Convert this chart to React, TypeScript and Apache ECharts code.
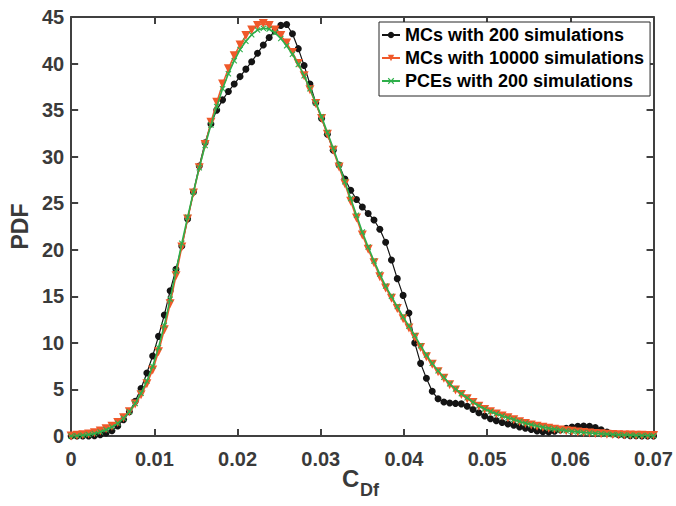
import React, { useEffect, useRef } from 'react';
import * as echarts from 'echarts';

// sample spacing of the estimated PDFs along C_Df
const X_STEP = 0.0007;

// MCs with 200 simulations (black dots)
const MC200 = [
  0, 0, 0, 0, 0.04, 0.15, 0.32, 0.57, 1.08, 1.76,
  2.6, 3.72, 5.1, 6.76, 8.6, 10.7, 13.0, 15.6, 17.9, 20.4,
  23.3, 26.2, 29.0, 31.5, 33.5, 35.0, 36.1, 37.0, 37.8, 38.6,
  39.4, 40.2, 41.1, 42.0, 42.8, 43.5, 44.1, 44.2, 43.2, 41.6,
  39.8, 37.8, 35.8, 34.1, 32.4, 30.7, 29.1, 27.6, 26.4, 25.4,
  24.6, 23.9, 23.2, 22.2, 20.8, 18.9, 16.9, 15.1, 13.2, 10.0,
  7.8, 6.2, 4.8, 4.0, 3.65, 3.55, 3.5, 3.45, 3.2, 2.85,
  2.5, 2.15, 1.85, 1.65, 1.45, 1.3, 1.15, 0.97, 0.83, 0.69,
  0.55, 0.45, 0.42, 0.52, 0.66, 0.82, 0.97, 1.04, 1.08, 1.04,
  0.9, 0.66, 0.43, 0.22, 0.14, 0.08, 0.04, 0.02, 0.01, 0,
  0,
];

// MCs with 10000 simulations (red triangles)
const MC10000 = [
  0, 0.07, 0.14, 0.22, 0.36, 0.55, 0.78, 1.06, 1.46, 1.97,
  2.6, 3.44, 4.44, 5.6, 7.08, 9.05, 11.4, 14.2, 17.2, 20.3,
  23.3, 26.1, 28.8, 31.3, 33.7, 35.85, 37.8, 39.45, 40.85, 42.0,
  43.0, 43.6, 44.1, 44.3, 44.1, 43.6, 43.0, 42.2, 41.2, 40.0,
  38.7, 37.2, 35.7, 34.1, 32.4, 30.7, 28.9, 27.1, 25.2, 23.4,
  21.6, 20.05, 18.6, 17.1, 15.9, 14.8, 13.7, 12.6, 11.6, 10.6,
  9.5, 8.5, 7.7, 6.9, 6.2, 5.5, 4.95, 4.45, 4.0, 3.6,
  3.2, 2.85, 2.6, 2.37, 2.15, 1.95, 1.74, 1.53, 1.35, 1.19,
  1.05, 0.93, 0.82, 0.73, 0.64, 0.57, 0.5, 0.44, 0.38, 0.33,
  0.28, 0.24, 0.2, 0.17, 0.14, 0.11, 0.1, 0.08, 0.07, 0.06,
  0.05,
];

// PCEs with 200 simulations (green crosses)
const PCE200 = [
  0, 0.03, 0.08, 0.15, 0.27, 0.44, 0.66, 0.96, 1.36, 1.9,
  2.6, 3.5, 4.6, 5.9, 7.5, 9.5, 11.9, 14.7, 17.7, 20.7,
  23.5, 26.2, 28.8, 31.2, 33.4, 35.4, 37.3, 38.9, 40.3, 41.5,
  42.4, 43.1, 43.6, 43.8, 43.7, 43.3, 42.7, 41.9, 41.0, 39.9,
  38.7, 37.3, 35.8, 34.3, 32.6, 30.9, 29.1, 27.3, 25.5, 23.7,
  21.9, 20.3, 18.8, 17.4, 16.1, 15.0, 13.9, 12.8, 11.8, 10.8,
  9.7, 8.7, 7.8, 7.0, 6.3, 5.6, 5.05, 4.55, 4.1, 3.65,
  3.25, 2.9, 2.62, 2.38, 2.16, 1.96, 1.76, 1.56, 1.38, 1.22,
  1.08, 0.95, 0.84, 0.74, 0.65, 0.57, 0.5, 0.44, 0.38, 0.33,
  0.28, 0.24, 0.2, 0.17, 0.14, 0.11, 0.09, 0.07, 0.06, 0.05,
  0.04,
];

const SERIES_NAMES = [
  'MCs with 200 simulations',
  'MCs with 10000 simulations',
  'PCEs with 200 simulations',
];

const X_MIN = 0;
const X_MAX = 0.07;
const X_INTERVAL = 0.01;
const Y_MIN = 0;
const Y_MAX = 45;
const Y_INTERVAL = 5;

const FONT = '"Liberation Sans", Arial, Helvetica, sans-serif';
const AXIS_COLOR = '#404040';
const TEXT_COLOR = '#3a3a3a';

const CROSS =
  'path://M0,1.3L1.3,0L5,3.7L8.7,0L10,1.3L6.3,5L10,8.7L8.7,10L5,6.3L1.3,10L0,8.7L3.7,5Z';

function toPairs(ys: number[]) {
  return ys.map((y, i) => [Number((i * X_STEP).toFixed(5)), y]);
}

export default function App() {
  const ref = useRef<HTMLDivElement>(null);

  useEffect(() => {
    if (!ref.current) return;
    const chart = echarts.init(ref.current, null, { renderer: 'svg' });

    const lineStyleAxis = { color: AXIS_COLOR, width: 2 };
    const baseX = {
      type: 'value',
      min: X_MIN,
      max: X_MAX,
      interval: X_INTERVAL,
      axisLine: { show: true, onZero: false, lineStyle: lineStyleAxis },
      axisTick: { show: true, inside: true, length: 7, lineStyle: lineStyleAxis },
      splitLine: { show: false },
    };
    const baseY = {
      type: 'value',
      min: Y_MIN,
      max: Y_MAX,
      interval: Y_INTERVAL,
      axisLine: { show: true, onZero: false, lineStyle: lineStyleAxis },
      axisTick: { show: true, inside: true, length: 7, lineStyle: lineStyleAxis },
      splitLine: { show: false },
    };

    chart.setOption({
      animation: false,
      backgroundColor: '#ffffff',
      grid: { left: 63, right: 20, top: 17, bottom: 70 },
      xAxis: [
        {
          ...baseX,
          position: 'bottom',
          axisLabel: {
            margin: 13,
            fontSize: 20,
            fontWeight: 'bold',
            fontFamily: FONT,
            color: TEXT_COLOR,
            formatter: (v: number) => (v === 0 ? '0' : v.toFixed(2)),
          },
        },
        { ...baseX, position: 'top', axisLabel: { show: false } },
      ],
      yAxis: [
        {
          ...baseY,
          position: 'left',
          name: 'PDF',
          nameLocation: 'middle',
          nameGap: 33,
          nameTextStyle: {
            fontSize: 23,
            fontWeight: 'bold',
            fontFamily: FONT,
            color: TEXT_COLOR,
          },
          axisLabel: {
            margin: 7,
            fontSize: 20,
            fontWeight: 'bold',
            fontFamily: FONT,
            color: TEXT_COLOR,
          },
        },
        { ...baseY, position: 'right', axisLabel: { show: false } },
      ],
      legend: {
        orient: 'vertical',
        left: 379,
        top: 22,
        itemGap: 3,
        itemWidth: 18,
        itemHeight: 8,
        padding: [3, 6, 5, 2],
        backgroundColor: '#ffffff',
        borderColor: '#262626',
        borderWidth: 1,
        textStyle: {
          fontSize: 18,
          fontWeight: 'bold',
          fontFamily: FONT,
          color: '#000000',
          lineHeight: 20,
        },
        data: SERIES_NAMES,
      },
      series: [
        {
          name: SERIES_NAMES[0],
          type: 'line',
          data: toPairs(MC200),
          symbol: 'circle',
          symbolSize: 7,
          showAllSymbol: true,
          itemStyle: { color: '#141414' },
          lineStyle: { color: '#141414', width: 1.2 },
          z: 2,
        },
        {
          name: SERIES_NAMES[1],
          type: 'line',
          data: toPairs(MC10000),
          symbol: 'triangle',
          symbolRotate: 180,
          symbolSize: 9,
          showAllSymbol: true,
          itemStyle: { color: '#F0592A' },
          lineStyle: { color: '#F0592A', width: 1.5 },
          z: 3,
        },
        {
          name: SERIES_NAMES[2],
          type: 'line',
          data: toPairs(PCE200),
          symbol: CROSS,
          symbolSize: 6,
          showAllSymbol: true,
          itemStyle: { color: '#2EAF4A' },
          lineStyle: { color: '#2EAF4A', width: 1.6 },
          z: 4,
        },
      ],
      graphic: [
        {
          type: 'text',
          left: 342,
          top: 466,
          style: {
            text: 'C',
            font: `bold 24px ${FONT}`,
            fill: TEXT_COLOR,
          },
        },
        {
          type: 'text',
          left: 360,
          top: 481,
          style: {
            text: 'Df',
            font: `bold 18px ${FONT}`,
            fill: TEXT_COLOR,
          },
        },
      ],
    });

    return () => chart.dispose();
  }, []);

  return (
    <div
      ref={ref}
      style={{ position: 'fixed', left: 0, top: 0, width: 676, height: 506 }}
    />
  );
}
